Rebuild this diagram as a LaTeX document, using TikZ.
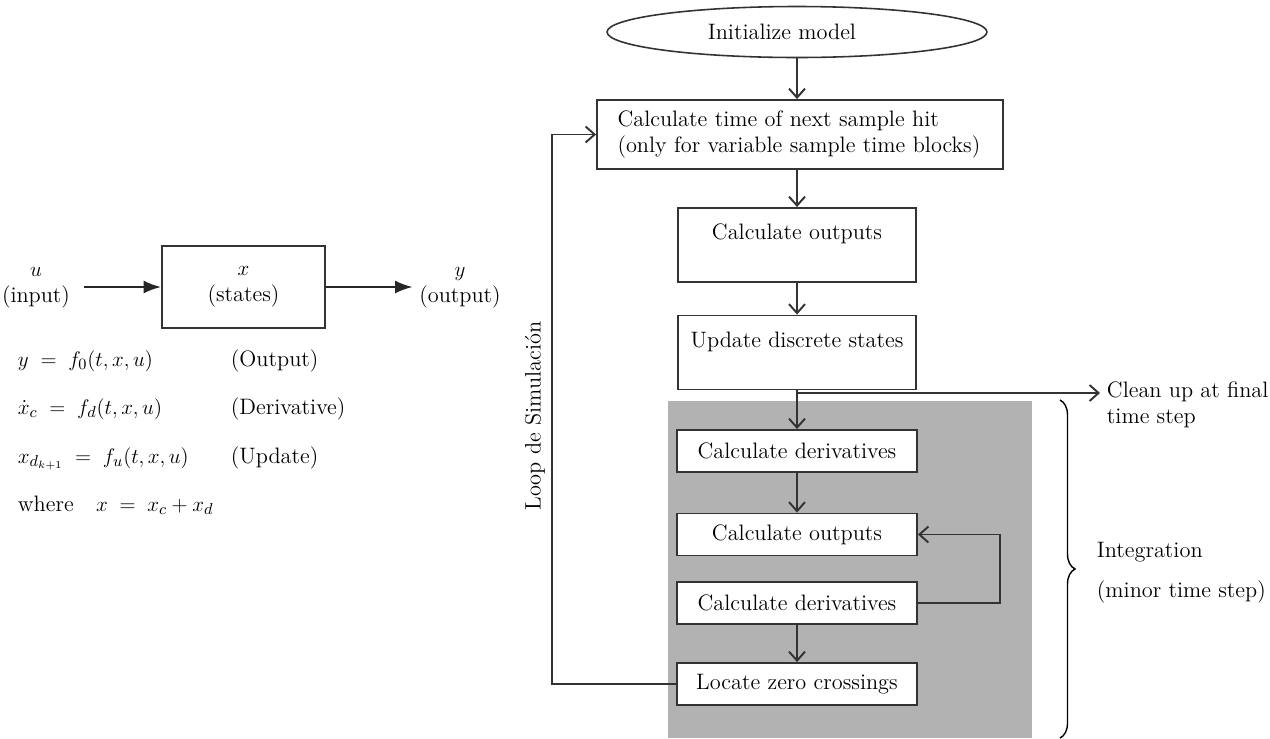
\documentclass[tikz,border=0pt]{standalone}
\usepackage{fontspec}
\usetikzlibrary{shapes.geometric,arrows.meta,decorations.pathreplacing}

\begin{document}
\begin{tikzpicture}[
		x=0.02cm, y=-0.02cm,
		line width=1.1pt,
		every node/.style={ font=\fontsize{12.7}{15}\selectfont, },
		blk/.style={ draw=black!80, fill=white, inner sep=0pt, minimum width=4.8cm, minimum height=0.84cm, },
		tall/.style={ blk, minimum width=4.76cm, minimum height=1.48cm, align=center, },
		txt/.style={ anchor=base west, inner sep=0pt, },
		sig/.style={ -{Latex[length=3.5mm,width=2.6mm]}, black!85, },
		flow/.style={ -{Straight Barb[length=1.8mm,width=3.2mm]}, black!80, },
		]
		
		\useasboundingbox (0,0) rectangle (1270,738);
		
		\begin{scope}
			\node[draw=black!80,minimum width=3.26cm,minimum height=1.64cm,align=center](sys) at (243.5,287){$x$\\(states)};
			\node[align=center](in) at (36,288){$u$\\(input)};
			\node[align=center](out) at (460,288){$y$\\(output)};
			\draw[sig,shorten <=0.14cm](in.east|-sys)--(sys);
			\draw[sig](sys)--(out.west|-sys);
			
			\node[txt](eq1) at (17,366){$y \;=\; f_0(t,x,u)$};
			\node[txt](lb1) at (230,366){(Output)};
			\node[txt](eq2) at (17,414){$\dot{x}_c \;=\; f_d(t,x,u)$};
			\node[txt](lb2) at (230,414){(Derivative)};
			\node[txt](eq3) at (17,463){$x_{d_{k+1}} \;=\; f_u(t,x,u)$};
			\node[txt](lb3) at (230,463){(Update)};
			\node[txt](eq4) at (17,511){where\quad $x \;=\; x_c+x_d$};
		\end{scope}
		
		\begin{scope}
			\fill[black!30](668,401)rectangle(1032,738);
			
			\node[ellipse,draw=black!80,line width=0.9pt,inner sep=0pt,minimum width=7.6cm,minimum height=1.02cm](init) at (797,32){\hspace*{-0.6cm}Initialize model};
			\node[blk,minimum width=8.12cm,minimum height=1.38cm,text width=7.3cm,align=left](b1) at (800,134.5){Calculate time of next sample hit\\(only for variable sample time blocks)};
			\node[tall](b2) at (797,245){Calculate outputs\\\mbox{}};
			\node[tall](b3) at (797,352.5){Update discrete states\\\mbox{}};
			\node[blk](b4) at (797,451){Calculate derivatives};
			\node[blk](b5) at (797,534.5){Calculate outputs};
			\node[blk](b6) at (797,603){Calculate derivatives};
			\node[blk](b7) at (797,684){Locate zero crossings};
			
			\draw[flow](init.south)--(init.south|-b1.north);
			\draw[flow](b1.south-|b2)--(b2);
			\draw[flow](b2)--(b3);
			\draw[flow](b3)--(b4);
			\draw[flow](b4)--(b5);
			\draw[flow](b6)--(b7);
			\draw[flow](b6.east)--++(82,0)|-(b5.east);
			\draw[flow](b7.west)--++(-124,0)|-(b1.west);
			\node[rotate=90](loop) at (535,416){Loop de Simulación};
			
			\coordinate(cl) at (1100,393);
			\draw[flow](b3.south|-cl)--(cl);
			\node[anchor=west,align=left,inner sep=0pt](clean) at (1106,405){Clean up at final\\time step};
			
			\draw[line width=0.8pt,decorate,decoration={brace,amplitude=0.3cm}](1060,400)--(1060,738);
			\node[txt](intg) at (1096,557){Integration};
			\node[txt](minor) at (1096,597){(minor time step)};
		\end{scope}
	\end{tikzpicture}
\end{document}
